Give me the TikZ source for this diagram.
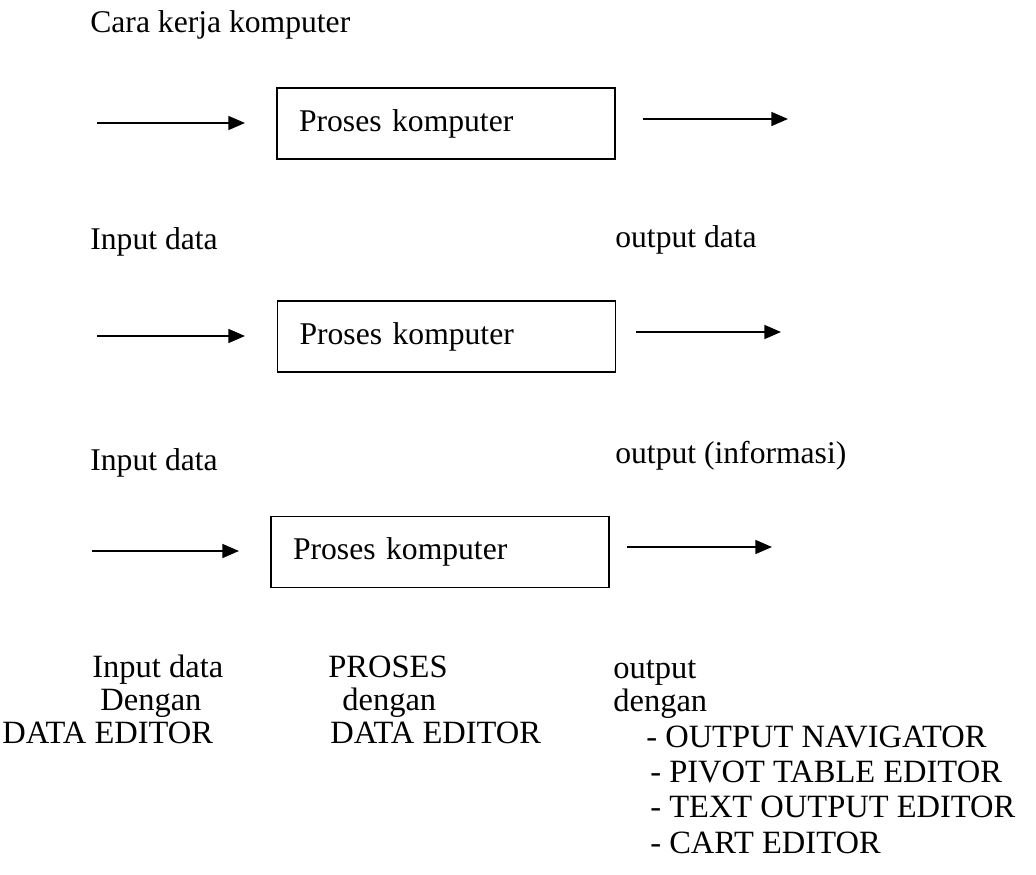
\documentclass[tikz,border=0pt]{standalone}
\usepackage{fontspec}
\setmainfont{Liberation Serif}
\usetikzlibrary{arrows.meta}

\tikzset{
	proc/.style={draw, line width=0.9pt, minimum height=1.42cm, inner xsep=0.44cm, text width=5.88cm, align=left, font=\fontsize{18}{20}\selectfont},
	flow/.style={-{Triangle[length=9.5pt,width=8pt]}, line width=0.8pt},
	lbl/.style={anchor=base west, inner sep=0pt, font=\fontsize{18}{20}\selectfont},
	lst/.style={anchor=base west, inner sep=0pt, font=\fontsize{18.5}{20}\selectfont}
}

\begin{document}
\begin{tikzpicture}[x=0.02cm, y=-0.02cm]
	\useasboundingbox (0,0) rectangle (1036,875);
	%title
	\node[lbl] (title) at (90,33) {Cara kerja komputer};
	%first row
	\node[proc] (box1) at (446,123.5) {Proses komputer};
	\coordinate (in1a) at (97,123);
	\coordinate (in1b) at (245,123);
	\coordinate (out1a) at (643,119);
	\coordinate (out1b) at (788,119);
	\draw[flow] (in1a) -- (in1b);
	\draw[flow] (out1a) -- (out1b);
	\node[lbl] (in1) at (90,250) {Input data};
	\node[lbl] (out1) at (615,248) {output data};
	%second row
	\node[proc] (box2) at (446.5,336.5) {Proses komputer};
	\coordinate (in2a) at (97,336);
	\coordinate (in2b) at (245,336);
	\coordinate (out2a) at (636,332);
	\coordinate (out2b) at (781,332);
	\draw[flow] (in2a) -- (in2b);
	\draw[flow] (out2a) -- (out2b);
	\node[lbl] (in2) at (90,470) {Input data};
	\node[lbl] (out2) at (615,463) {output (informasi)};
	%third row
	\node[proc] (box3) at (440,552) {Proses komputer};
	\coordinate (in3a) at (92,551);
	\coordinate (in3b) at (239,551);
	\coordinate (out3a) at (627,547);
	\coordinate (out3b) at (772,547);
	\draw[flow] (in3a) -- (in3b);
	\draw[flow] (out3a) -- (out3b);
	%bottom columns
	\node[lst] (col1a) at (92,677) {Input data};
	\node[lst] (col1b) at (100,710) {Dengan};
	\node[lst] (col1c) at (2,743) {DATA EDITOR};
	\node[lst] (col2a) at (328,677) {PROSES};
	\node[lst] (col2b) at (342,710) {dengan};
	\node[lst] (col2c) at (330,743) {DATA EDITOR};
	\node[lst] (col3a) at (613,678) {output};
	\node[lst] (col3b) at (613,711) {dengan};
	%editor list
	\foreach \n/\x/\y/\t in {1/646/747/OUTPUT NAVIGATOR,2/650/782/PIVOT TABLE EDITOR,3/650/817/TEXT OUTPUT EDITOR,4/650/853/CART EDITOR}
	\node[lst] (item\n) at (\x,\y) {- \t};
\end{tikzpicture}
\end{document}
